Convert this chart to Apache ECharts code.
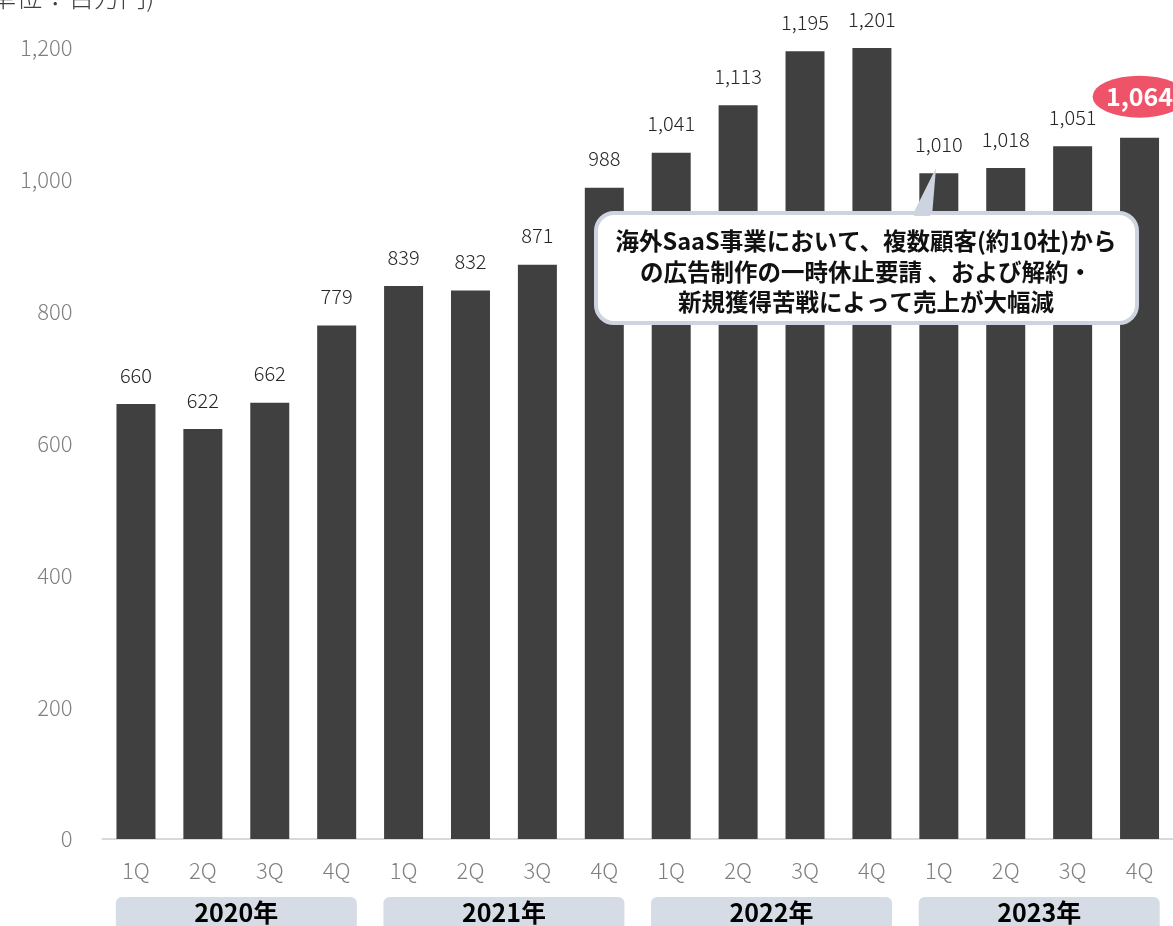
<!DOCTYPE html>
<html><head><meta charset="utf-8">
<script src="https://cdn.jsdelivr.net/npm/echarts@6/dist/echarts.min.js"></script>
<style>html,body{margin:0;padding:0;background:#fff}#c{width:1173px;height:926px}</style>
</head><body><div id="c"></div>
<script>
const quarters = ['1Q','2Q','3Q','4Q','1Q','2Q','3Q','4Q','1Q','2Q','3Q','4Q','1Q','2Q','3Q','4Q'];
const years = ['2020年','2021年','2022年','2023年'];
const sales = [660,622,662,779,839,832,871,988,1041,1113,1195,1201,1010,1018,1051,1064];
const yTicks = [0,200,400,600,800,1000,1200];
const unitLabel = '(単位：百万円)';
const calloutLines = ['海外SaaS事業において、複数顧客(約10社)から','の広告制作の一時休止要請 、および解約・','新規獲得苦戦によって売上が大幅減'];
const highlightIndex = 15;

const FONT = "'Noto Sans CJK JP','Noto Sans',sans-serif";
const chart = echarts.init(document.getElementById('c'));
const fmt = v => Number(v).toLocaleString('en-US');

chart.setOption({
  animation:false,
  textStyle:{fontFamily:FONT},
  grid:{left:102.5,right:0,top:48,bottom:87,containLabel:false,outerBoundsMode:'none'},
  xAxis:[{
    type:'category', data:quarters.map((q,i)=>i),
    axisLine:{lineStyle:{color:'#d9d9d9',width:2}}, axisTick:{show:false},
    axisLabel:{formatter:(v)=>quarters[v], color:'#7f7f7f', fontSize:22, fontWeight:300, margin:21, fontFamily:FONT}
  },{
    type:'category', data:years, position:'bottom', offset:50,
    axisLine:{show:false}, axisTick:{show:false},
    axisLabel:{color:'#000', fontSize:25, fontWeight:'bold', fontFamily:FONT,
      backgroundColor:'#D6DCE5', borderRadius:6, width:241, height:40, lineHeight:30, align:'center', verticalAlign:'top', margin:8}
  }],
  yAxis:{
    type:'value', min:yTicks[0], max:yTicks[yTicks.length-1], interval:200,
    splitLine:{show:false}, axisLine:{show:false}, axisTick:{show:false},
    axisLabel:{formatter:fmt, color:'#7f7f7f', fontSize:22, fontWeight:300, margin:30, fontFamily:FONT}
  },
  series:[{
    type:'bar', xAxisIndex:0, barWidth:39,
    data:sales.map((v,i)=> i===highlightIndex ? {value:v,label:{show:false}} : v),
    itemStyle:{color:'#404040'},
    label:{show:true, position:'top', distance:19, formatter:p=>fmt(p.value), color:'#262626', fontSize:20, fontWeight:300, fontFamily:FONT},
    markPoint:{
      data:[{coord:[highlightIndex, sales[highlightIndex]], value:sales[highlightIndex]}],
      symbol:'path://M0,10A10,10,0,1,1,20,10A10,10,0,1,1,0,10Z',
      symbolSize:[94,42], symbolOffset:[0,-41],
      itemStyle:{color:'#EF5369'},
      label:{show:true, formatter:p=>fmt(p.value), color:'#fff', fontSize:25, fontWeight:'bold', fontFamily:FONT}
    }
  }],
  graphic:[
    {type:'text', left:-18, top:-16, style:{text:unitLabel, fill:'#404040', fontSize:26, fontWeight:300, fontFamily:FONT}},
    {type:'polygon', shape:{points:[[912,216],[936,168],[932,216]]}, style:{fill:'#CDD4DF'}, z:10},
    {type:'rect', shape:{x:596,y:213,width:541,height:110,r:18}, style:{fill:'#fff',stroke:'#CDD4DF',lineWidth:4}, z:10},
    {type:'polygon', shape:{points:[[914,216],[933,176],[930,216]]}, style:{fill:'#CDD4DF'}, z:11},
    {type:'text', x:866, y:226, style:{text:calloutLines.join('\n'), fill:'#111', fontSize:23.5, fontWeight:'bold', fontFamily:FONT, align:'center', verticalAlign:'top', lineHeight:30.5}, z:12}
  ]
});
</script></body></html>
